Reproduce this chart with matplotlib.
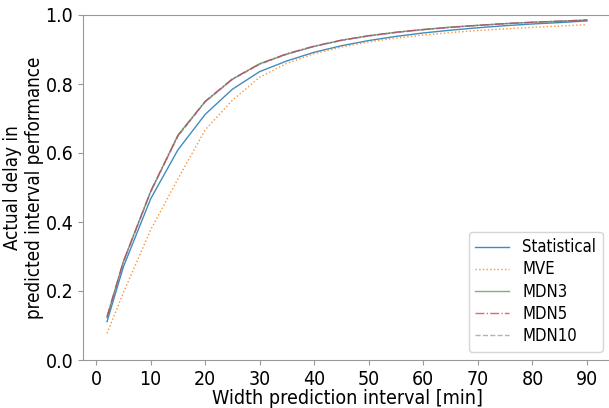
import matplotlib
matplotlib.use('Agg')
import matplotlib.pyplot as plt

plt.rcParams['font.family'] = 'DejaVu Sans'
plt.rcParams['font.stretch'] = 'condensed'

# interval widths [min]
widths = [2, 5, 10, 15, 20, 25, 30, 35, 40, 45, 50, 55, 60, 65, 70, 75, 80, 85, 90]

statistical = [0.111, 0.270, 0.467, 0.609, 0.712, 0.785, 0.836, 0.867, 0.892, 0.911, 0.926, 0.938, 0.948, 0.956, 0.963, 0.969, 0.974, 0.978, 0.983]
mve = [0.077, 0.195, 0.377, 0.525, 0.667, 0.753, 0.820, 0.860, 0.888, 0.907, 0.922, 0.933, 0.942, 0.949, 0.955, 0.960, 0.964, 0.968, 0.972]
mdn3 = [0.124, 0.286, 0.488, 0.652, 0.749, 0.814, 0.859, 0.887, 0.909, 0.927, 0.940, 0.950, 0.958, 0.965, 0.970, 0.975, 0.979, 0.982, 0.985]
mdn5 = [0.126, 0.285, 0.489, 0.650, 0.750, 0.815, 0.858, 0.888, 0.910, 0.927, 0.940, 0.950, 0.958, 0.964, 0.970, 0.975, 0.979, 0.982, 0.986]
mdn10 = [0.122, 0.283, 0.486, 0.648, 0.748, 0.813, 0.857, 0.886, 0.909, 0.926, 0.939, 0.949, 0.957, 0.964, 0.970, 0.975, 0.979, 0.982, 0.985]

fig = plt.figure(figsize=(6.09, 4.08), dpi=100)
ax = fig.add_axes([83 / 609, 48 / 408, 528 / 609, 345 / 408])

ax.plot(widths, statistical, color='tab:blue', lw=1, alpha=0.85, label='Statistical')
ax.plot(widths, mve, color='tab:orange', lw=1, ls=':', alpha=0.85, label='MVE')
ax.plot(widths, mdn3, color='tab:green', lw=1, alpha=0.7, label='MDN3')
ax.plot(widths, mdn5, color='tab:red', lw=1, ls='-.', alpha=0.7, label='MDN5')
ax.plot(widths, mdn10, color='tab:purple', lw=1, ls='--', alpha=0.6, label='MDN10')

ax.set_ylim(0, 1.0)
ax.set_xticks(range(0, 91, 10))
ax.set_yticks([0.0, 0.2, 0.4, 0.6, 0.8, 1.0])
ax.tick_params(labelsize=14, color='0.6')
for s in ax.spines.values():
    s.set_color('0.6')

ax.set_xlabel('Width prediction interval [min]', fontsize=14, labelpad=0)
ax.set_ylabel('Actual delay in\npredicted interval performance', fontsize=13.5, labelpad=1)
ax.legend(loc='lower right', fontsize=12, labelspacing=0.25)

fig.savefig('out.png', dpi=100)
